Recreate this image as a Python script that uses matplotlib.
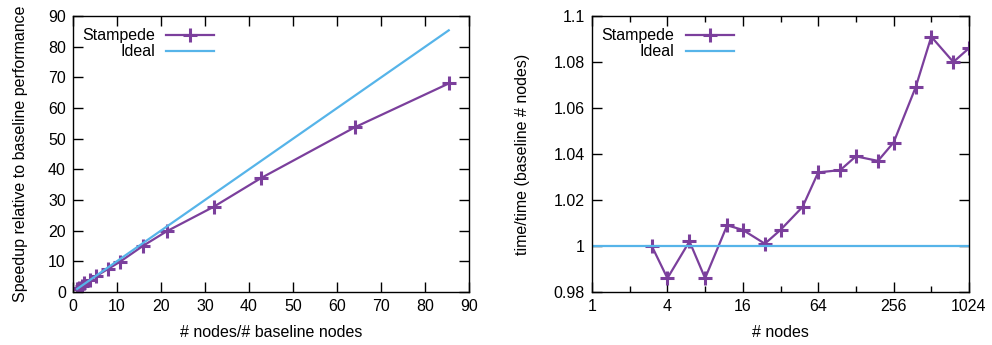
"""Strong and weak scaling of Stampede runs, side by side."""

import matplotlib
matplotlib.use('Agg')
import matplotlib.pyplot as plt
from matplotlib.ticker import FixedLocator, FuncFormatter

plt.rcParams['font.family'] = ['Liberation Sans', 'DejaVu Sans']
plt.rcParams['font.size'] = 11.5

PURPLE = '#7b3f9c'
BLUE = '#56b4e9'

# strong scaling: node count relative to the 3-node baseline
ratio = [1, 1.333, 2, 2.667, 4, 5.333, 8, 10.667, 16, 21.333, 32, 42.667, 64, 85.333]
speedup = [1.0, 1.4, 2.1, 2.8, 3.9, 5.2, 7.5, 9.8, 15.1, 19.8, 27.8, 37.1, 53.7, 68.0]
ideal_x = [1, 85.333]

# weak scaling: time normalised to the baseline run
nodes = [3, 4, 6, 8, 12, 16, 24, 32, 48, 64, 96, 128, 192, 256, 384, 512, 768, 1024]
time_ratio = [1.000, 0.986, 1.002, 0.986, 1.009, 1.007, 1.001, 1.007, 1.017,
              1.032, 1.033, 1.039, 1.037, 1.045, 1.069, 1.091, 1.080, 1.086]

fig = plt.figure(figsize=(9.92, 3.45), dpi=100)
ax1 = fig.add_axes([0.0733, 0.1536, 0.3998, 0.8])
ax2 = fig.add_axes([0.5968, 0.1536, 0.3800, 0.8])

line_kw = dict(color=PURPLE, lw=1.6, marker='+', markersize=10.5, markeredgewidth=2.2)

ax1.plot(ratio, speedup, label='Stampede', **line_kw)
ax1.plot(ideal_x, ideal_x, color=BLUE, lw=1.6, label='Ideal')
ax1.set_xlim(0, 90)
ax1.set_ylim(0, 90)
ax1.set_xticks(range(0, 91, 10))
ax1.set_yticks(range(0, 91, 10))
ax1.set_xlabel('# nodes/# baseline nodes', labelpad=8)
ax1.set_ylabel('Speedup relative to baseline performance', labelpad=14)

ax2.plot(nodes, time_ratio, label='Stampede', **line_kw)
ax2.axhline(1.0, color=BLUE, lw=1.6, label='Ideal')
ax2.set_xscale('log', base=2)
ax2.set_xlim(1, 1024)
ax2.set_ylim(0.98, 1.1)
ax2.xaxis.set_major_locator(FixedLocator([1, 4, 16, 64, 256, 1024]))
ax2.xaxis.set_minor_locator(FixedLocator([2, 8, 32, 128, 512]))
ax2.xaxis.set_major_formatter(FuncFormatter(lambda v, p: f'{v:g}'))
ax2.xaxis.set_minor_formatter(FuncFormatter(lambda v, p: ''))
ax2.set_yticks([0.98, 1.0, 1.02, 1.04, 1.06, 1.08, 1.1])
ax2.yaxis.set_major_formatter(FuncFormatter(lambda v, p: f'{v:g}'))
ax2.set_xlabel('# nodes', labelpad=8)
ax2.set_ylabel('time/time (baseline # nodes)', labelpad=17)

for ax in (ax1, ax2):
    for s in ax.spines.values():
        s.set_linewidth(1.0)
    ax.tick_params(which='major', direction='in', length=7, width=1.0,
                   top=True, right=True, pad=5)
    ax.tick_params(which='minor', direction='in', length=4, width=1.0,
                   top=True, right=True)
    ax.legend(loc='upper left', bbox_to_anchor=(0.0, 0.99), frameon=False,
              markerfirst=False, handlelength=3.0, handletextpad=0.7,
              labelspacing=0.05, borderaxespad=0.3, borderpad=0.3)

fig.savefig('out.png', dpi=100)
